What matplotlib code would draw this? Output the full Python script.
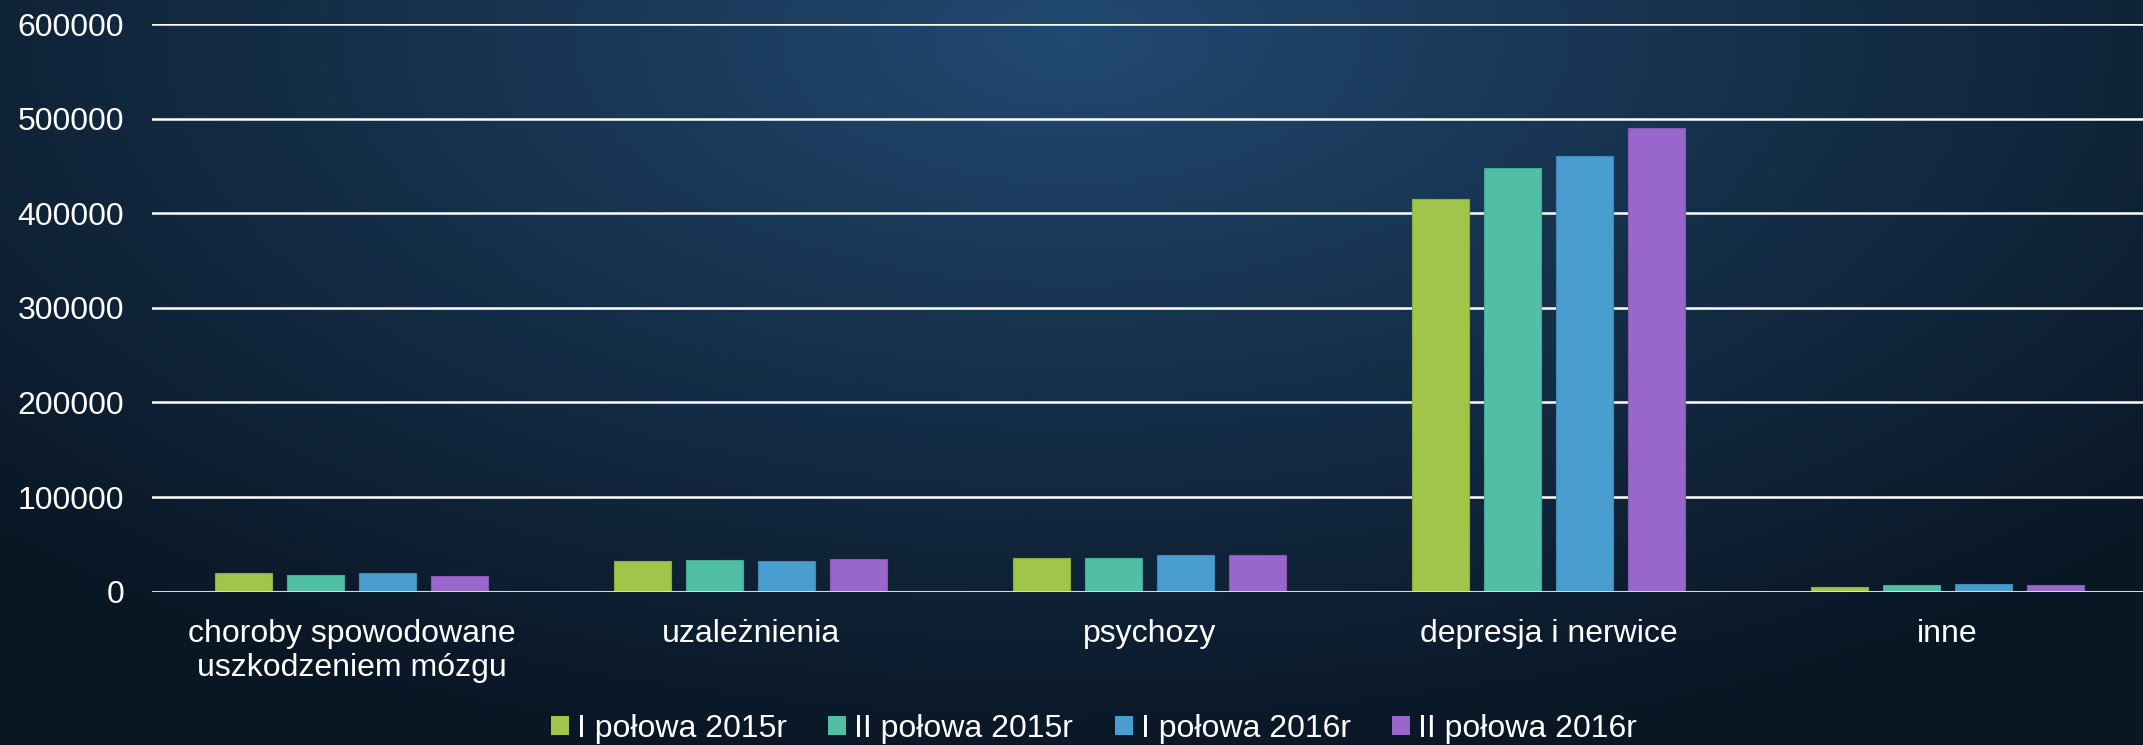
import numpy as np
import matplotlib
matplotlib.use("Agg")
import matplotlib.pyplot as plt
from matplotlib.patches import Patch

categories = ["choroby spowodowane\nuszkodzeniem mózgu", "uzależnienia", "psychozy",
              "depresja i nerwice", "inne"]
series_names = ["I połowa 2015r", "II połowa 2015r", "I połowa 2016r", "II połowa 2016r"]
s_2015_1 = [19500, 32000, 36000, 415000, 5000]
s_2015_2 = [17300, 33800, 36000, 448000, 6800]
s_2016_1 = [19800, 32000, 39000, 461000, 8100]
s_2016_2 = [17000, 35000, 38800, 490500, 6800]
yticks = [0, 100000, 200000, 300000, 400000, 500000, 600000]

colors = ["#A1C548", "#50BFA5", "#4A9DCF", "#9966CB"]
edges = ["#8DAD3E", "#46A891", "#4189B6", "#8659B3"]

plt.rcParams['font.family'] = ['Liberation Sans', 'DejaVu Sans']

W, H, DPI = 2143, 745, 100
fig = plt.figure(figsize=(W / DPI, H / DPI), dpi=DPI)

# background gradient
bg = fig.add_axes([0, 0, 1, 1], zorder=-10)
yy, xx = np.mgrid[0:1:200j, 0:1:600j]
d = np.sqrt(((xx - 0.5) / 0.7) ** 2 + ((yy - 0.05) / 1.0) ** 2)
d = np.clip(d, 0, 1) ** 0.9
c_in = np.array([0x22, 0x4a, 0x72]) / 255
c_out = np.array([0x09, 0x16, 0x24]) / 255
img = c_in[None, None, :] * (1 - d[..., None]) + c_out[None, None, :] * d[..., None]
bg.imshow(img, aspect='auto', extent=[0, 1, 0, 1], origin='upper')
bg.set_axis_off()

ax = fig.add_axes([152 / W, 1 - 591.7 / H, 1995 / W, (591.7 - 24) / H])
ax.patch.set_alpha(0)

x = np.arange(len(categories))
width = 0.143
offsets = [-0.2715, -0.0905, 0.0905, 0.2715]
all_series = [s_2015_1, s_2015_2, s_2016_1, s_2016_2]
for vals, off, c, e, name in zip(all_series, offsets, colors, edges, series_names):
    ax.bar(x + off, vals, width, color=c, edgecolor=e, linewidth=0.8, label=name, zorder=3)

ax.set_xlim(-0.5, len(categories) - 0.5)
ax.set_ylim(0, 600000)
ax.set_yticks(yticks)
ax.set_yticklabels([str(v) for v in yticks])
ax.set_xticks(x)
ax.set_xticklabels(categories, linespacing=1.15)
ax.tick_params(axis='both', length=0, colors='white', labelsize=23)
ax.tick_params(axis='y', pad=20)
ax.tick_params(axis='x', pad=20)
for s in ax.spines.values():
    s.set_visible(False)
ax.grid(axis='y', color='white', linewidth=1.8, zorder=0)
ax.axhline(0, color='#d9d9d9', linewidth=2.2, zorder=4)

handles = [Patch(facecolor=c, edgecolor='none') for c in colors]
leg = fig.legend(handles, series_names, loc='center', bbox_to_anchor=(1094 / W, 16 / H),
                 ncol=4, frameon=False, fontsize=23, handlelength=0.56, handleheight=0.56,
                 handletextpad=0.25, columnspacing=1.3, labelcolor='white')

fig.savefig("out.png", dpi=DPI)
